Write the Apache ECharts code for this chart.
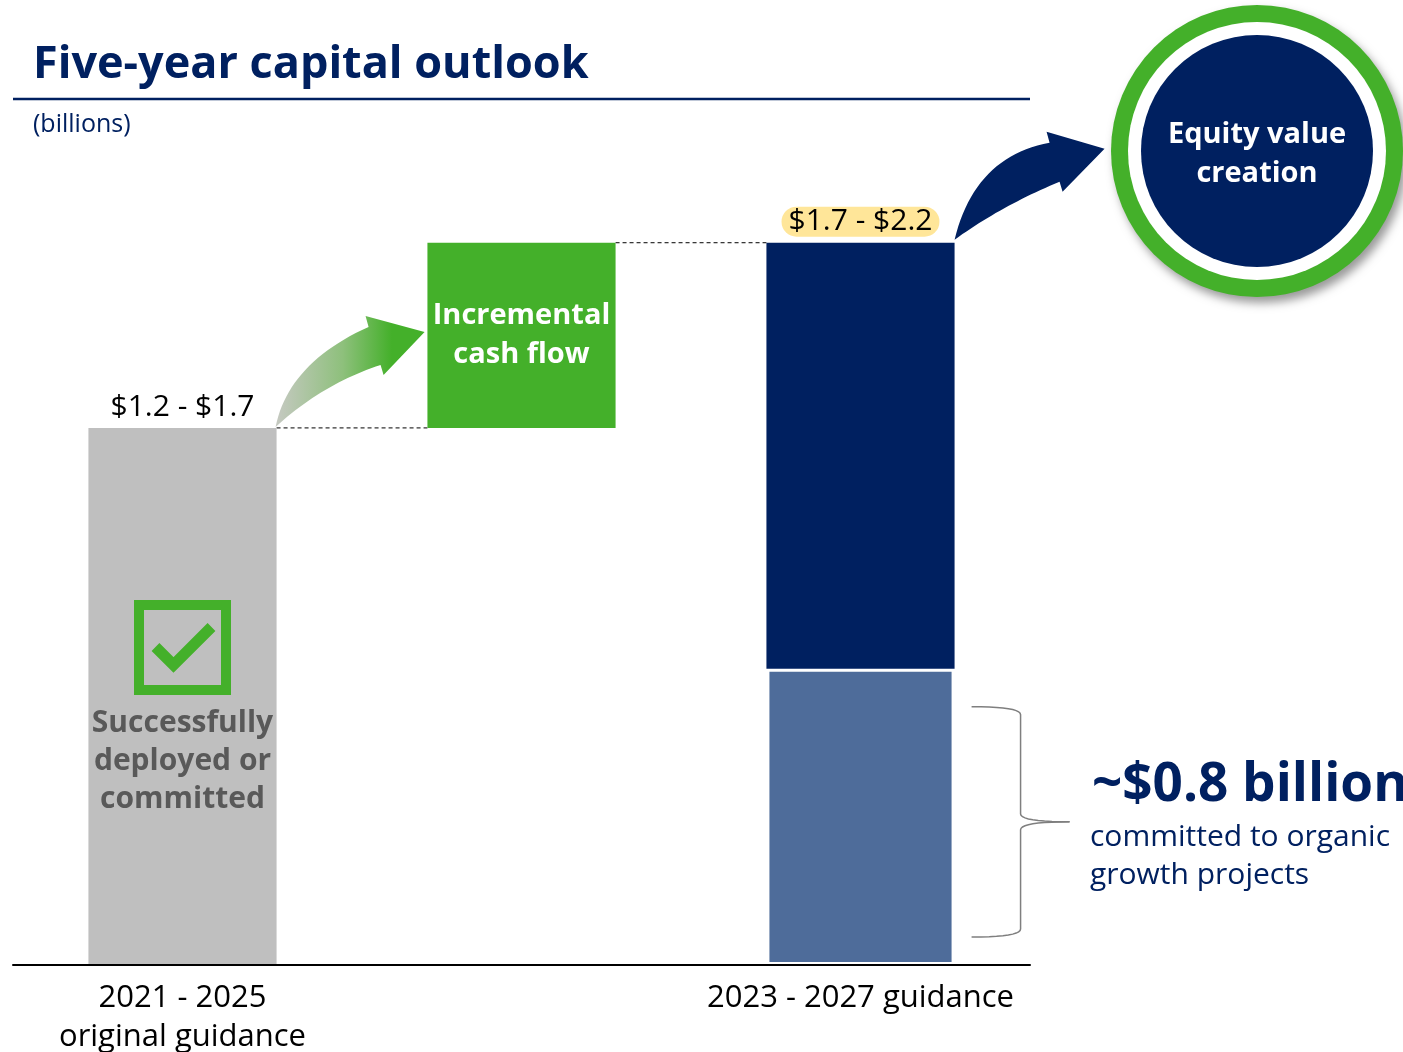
<!DOCTYPE html>
<html>
<head>
<meta charset="utf-8">
<script src="https://cdn.jsdelivr.net/npm/echarts@6/dist/echarts.min.js"></script>
<style>
html,body{margin:0;padding:0;background:#fff;overflow:hidden;}
#chart{width:1403px;height:1052px;}
</style>
</head>
<body>
<div id="chart"></div>
<script>
// ---- Data ----
const categories = ['2021 - 2025\noriginal guidance', '', '2023 - 2027 guidance'];
const baseValues = [0, 1.45, 0];            // invisible offset for the floating step
const originalValues = [1.45, null, null];  // midpoint of $1.2 - $1.7
const incrementalValues = [null, 0.5, null];
const committedValues = [null, null, 0.8];  // ~$0.8 billion committed
const remainingValues = [null, null, 1.15]; // up to midpoint of $1.7 - $2.2
const rangeLabels = ['$1.2 - $1.7', 'Incremental\ncash flow', '$1.7 - $2.2'];
const titleText = 'Five-year capital outlook';
const unitText = '(billions)';
const deployedText = 'Successfully\ndeployed or\ncommitted';
const equityText = 'Equity value\ncreation';
const committedHeadline = '~$0.8 billion';
const committedNote = 'committed to organic\ngrowth projects';

const NAVY = '#002060', GREEN = '#44B02A', GRAY = '#BFBFBF', LIGHTBLUE = '#4E6C9A';
const FONT = '"Open Sans", "Noto Sans", sans-serif';
const BARW = 0.555;

const chart = echarts.init(document.getElementById('chart'), null, {renderer: 'canvas', width: 1403, height: 1052});

chart.setOption({
  animation: false,
  textStyle: {fontFamily: FONT},
  grid: {left: 13, width: 1017, top: 39, height: 926, containLabel: false, outerBoundsMode: 'none'},
  xAxis: {
    type: 'category', data: categories, z: 5,
    axisLine: {lineStyle: {color: '#000', width: 2}},
    axisTick: {show: false},
    axisLabel: {color: '#000', fontSize: 31, lineHeight: 39, margin: 14, fontFamily: FONT, interval: 0}
  },
  yAxis: {type: 'value', min: 0, max: 2.5, show: false, splitLine: {show: false}},
  series: [
    {type: 'bar', stack: 't', data: baseValues, barWidth: (BARW * 100) + '%',
     itemStyle: {color: 'rgba(0,0,0,0)'}, silent: true},
    {type: 'bar', stack: 't', data: originalValues, itemStyle: {color: GRAY},
     label: {show: true, position: 'top', distance: 5, color: '#000', fontSize: 30, fontFamily: FONT,
       formatter: () => rangeLabels[0]}},
    {type: 'bar', stack: 't', data: incrementalValues, itemStyle: {color: GREEN},
     label: {show: true, position: 'inside', color: '#fff', fontSize: 29, fontWeight: 'bold', lineHeight: 39,
       fontFamily: FONT, formatter: () => rangeLabels[1]}},
    {type: 'bar', stack: 't', data: committedValues,
     itemStyle: {color: LIGHTBLUE, borderColor: '#fff', borderWidth: 3}},
    {type: 'bar', stack: 't', data: remainingValues, itemStyle: {color: NAVY},
     label: {show: true, position: 'top', distance: 6, color: '#000', fontSize: 30, fontFamily: FONT,
       backgroundColor: '#FFE699', borderRadius: 15, padding: [0, 7], lineHeight: 30,
       formatter: () => rangeLabels[2]}}
  ]
});

// ---- Annotations anchored to the chart's own scales ----
const xc = i => chart.convertToPixel({xAxisIndex: 0}, i);
const yv = v => chart.convertToPixel({yAxisIndex: 0}, v);
const band = xc(1) - xc(0);
const half = band * BARW / 2;
const yBase = yv(0);
const yOrig = yv(originalValues[0]);
const yTop = yv(baseValues[1] + incrementalValues[1]);
const yCommit = yv(committedValues[2]);

function rel(px, py, pts) { return pts.map(p => [px + p[0], py + p[1]]); }
function quad(p0, c, p1, n) {
  const out = [];
  for (let i = 0; i <= n; i++) {
    const t = i / n, u = 1 - t;
    out.push([u * u * p0[0] + 2 * u * t * c[0] + t * t * p1[0], u * u * p0[1] + 2 * u * t * c[1] + t * t * p1[1]]);
  }
  return out;
}
function arrowPoints(px, py, s) {
  const R = p => [px + p[0], py + p[1]];
  const up = quad(R(s.a), R(s.uc), R(s.uj), 24);
  const low = quad(R(s.lj), R(s.lc), R(s.a), 24);
  return up.concat([R(s.ub), R(s.tip), R(s.lb)], low.slice(0, -1));
}

const greenArrow = {a: [-1, -1], uc: [12, -65], uj: [92, -101], ub: [89, -112], tip: [148, -96], lb: [107, -53], lj: [104, -63], lc: [46, -44]};
const navyArrow = {a: [0, -3], uc: [20, -86], uj: [95, -100], ub: [92, -111], tip: [150, -94], lb: [108, -51], lj: [105, -61], lc: [47, -37]};
const greenPts = arrowPoints(xc(0) + half, yOrig, greenArrow);
const navyPts = arrowPoints(xc(2) + half, yTop, navyArrow);

const cx0 = xc(0);
const bx = xc(2) + half;
const bTop = yCommit + 38, bBot = yBase - 28, bMid = (bTop + bBot) / 2;
const vx = bx + 66;
const braceUpper = quad([bx + 17, bTop], [vx, bTop], [vx, bTop + 8], 10)
  .concat(quad([vx, bMid - 8], [vx, bMid], [bx + 115, bMid], 10));
const braceLower = quad([bx + 115, bMid], [vx, bMid], [vx, bMid + 8], 10)
  .concat(quad([vx, bBot - 8], [vx, bBot], [bx + 17, bBot], 10));

const CX = 1257, CY = 151;
const greenGrad = new echarts.graphic.LinearGradient(0, 0, 1, 0, [
  {offset: 0, color: '#C6C9C2'}, {offset: 0.45, color: '#8EC07C'}, {offset: 0.78, color: GREEN}, {offset: 1, color: GREEN}]);

chart.setOption({
  graphic: [
    // title block
    {type: 'text', x: 33, y: 65, style: {text: titleText, fill: NAVY, font: 'bold 45px ' + FONT, verticalAlign: 'middle'}},
    {type: 'line', shape: {x1: 13, y1: 99, x2: 1030, y2: 99}, style: {stroke: NAVY, lineWidth: 2.5}},
    {type: 'text', x: 33, y: 125, style: {text: unitText, fill: NAVY, font: '25px ' + FONT, verticalAlign: 'middle'}},
    // dashed connectors
    {type: 'line', shape: {x1: xc(0) + half, y1: yOrig, x2: xc(1) - half, y2: yOrig},
     style: {stroke: '#000', lineWidth: 1, lineDash: [4, 3]}},
    {type: 'line', shape: {x1: xc(1) + half, y1: yTop, x2: xc(2) - half, y2: yTop},
     style: {stroke: '#000', lineWidth: 1, lineDash: [4, 3]}},
    // arrows
    {type: 'polygon', shape: {points: greenPts}, z: 10, style: {fill: greenGrad}},
    {type: 'polygon', shape: {points: navyPts}, z: 10, style: {fill: NAVY}},
    // equity circle
    {type: 'circle', shape: {cx: CX, cy: CY, r: 146}, z: 10,
     style: {fill: GREEN, shadowColor: 'rgba(0,0,0,0.4)', shadowBlur: 10, shadowOffsetX: 4, shadowOffsetY: 6}},
    {type: 'circle', shape: {cx: CX, cy: CY, r: 129}, z: 11, style: {fill: '#fff'}},
    {type: 'circle', shape: {cx: CX, cy: CY, r: 116}, z: 12, style: {fill: NAVY}},
    {type: 'text', x: CX, y: CY + 3, z: 13,
     style: {text: equityText, fill: '#fff', font: 'bold 29px ' + FONT, lineHeight: 39, align: 'center', verticalAlign: 'middle'}},
    // checkbox in gray bar
    {type: 'rect', shape: {x: cx0 - 43.5, y: yBase - 360, width: 87, height: 85}, z: 10,
     style: {fill: 'none', stroke: GREEN, lineWidth: 10}},
    {type: 'polyline', shape: {points: rel(cx0, yBase, [[-27, -318], [-9, -300], [29, -338]])}, z: 10,
     style: {stroke: GREEN, lineWidth: 11, fill: 'none', lineJoin: 'miter', lineCap: 'butt'}},
    {type: 'text', x: cx0, y: yBase - 204, z: 10,
     style: {text: deployedText, fill: '#595959', font: 'bold 30px ' + FONT, lineHeight: 38, align: 'center', verticalAlign: 'middle'}},
    // brace + committed annotation
    {type: 'polyline', shape: {points: braceUpper}, z: 10, style: {stroke: '#7F7F7F', lineWidth: 1.5, fill: 'none'}},
    {type: 'polyline', shape: {points: braceLower}, z: 10, style: {stroke: '#7F7F7F', lineWidth: 1.5, fill: 'none'}},
    {type: 'text', x: 1092, y: 786, z: 10,
     style: {text: committedHeadline, fill: NAVY, font: 'bold 53px ' + FONT, verticalAlign: 'middle'}},
    {type: 'text', x: 1090, y: 856, z: 10,
     style: {text: committedNote, fill: NAVY, font: '30px ' + FONT, lineHeight: 38, verticalAlign: 'middle'}}
  ]
});
</script>
</body>
</html>
